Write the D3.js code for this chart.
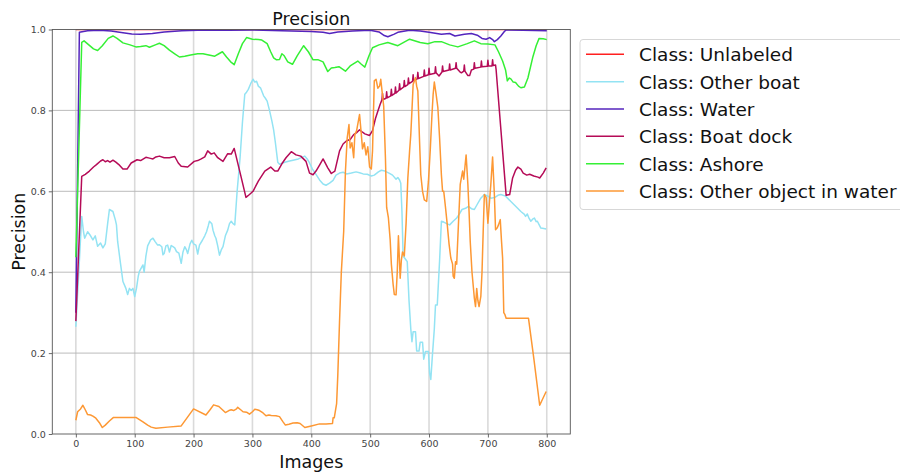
<!DOCTYPE html>
<html>
<head>
<meta charset="utf-8">
<script src="https://cdn.jsdelivr.net/npm/d3@7"></script>
<style>
  html, body { margin: 0; padding: 0; background: #fff; }
  svg { display: block; font-family: "DejaVu Sans", sans-serif; }
</style>
</head>
<body>
<svg id="chart" width="900" height="473"></svg>
<script>
// Per-class precision over the image sequence, as [image index, precision] pairs.
const classNames = ["Class: Unlabeled", "Class: Other boat", "Class: Water",
  "Class: Boat dock", "Class: Ashore", "Class: Other object in water"];

const unlabeled = [[0, 1.0], [800, 1.0]];

const otherBoat = [[0,0.265],[10,0.538],[13,0.5],[15,0.484],[20,0.5],[25,0.49],[29,0.48],[33,0.49],[37,0.464],[42,0.472],[46,0.46],[50,0.47],[54,0.52],[57,0.555],[63,0.55],[67,0.53],[69,0.517],[71,0.476],[76,0.42],[80,0.377],[85,0.36],[88,0.345],[91,0.36],[94,0.355],[97,0.36],[100,0.34],[103,0.36],[106,0.39],[108,0.402],[111,0.41],[114,0.418],[116,0.4],[119,0.44],[122,0.465],[127,0.48],[131,0.484],[135,0.475],[139,0.467],[142,0.468],[146,0.463],[148,0.443],[150,0.446],[153,0.465],[156,0.467],[159,0.45],[162,0.466],[165,0.463],[168,0.46],[171,0.451],[175,0.447],[179,0.422],[182,0.45],[185,0.463],[188,0.455],[190,0.446],[194,0.47],[197,0.479],[200,0.47],[204,0.467],[207,0.445],[210,0.467],[215,0.479],[219,0.49],[222,0.5],[225,0.515],[227,0.526],[231,0.52],[233,0.504],[236,0.49],[238,0.484],[241,0.465],[244,0.442],[247,0.455],[250,0.463],[254,0.49],[258,0.504],[261,0.52],[264,0.526],[267,0.52],[270,0.517],[274,0.6],[279,0.683],[283,0.77],[287,0.84],[290,0.845],[293,0.852],[297,0.866],[301,0.877],[304,0.87],[307,0.872],[310,0.86],[314,0.855],[319,0.836],[322,0.83],[325,0.823],[329,0.8],[333,0.774],[336,0.752],[339,0.72],[343,0.672],[346,0.667],[355,0.672],[363,0.675],[369,0.677],[378,0.68],[384,0.684],[389,0.687],[393,0.68],[397,0.67],[402,0.655],[408,0.642],[414,0.628],[420,0.618],[425,0.615],[431,0.62],[437,0.627],[442,0.64],[448,0.645],[454,0.647],[460,0.643],[468,0.645],[476,0.648],[482,0.646],[488,0.643],[495,0.642],[502,0.638],[507,0.64],[514,0.648],[519,0.652],[525,0.65],[532,0.645],[538,0.64],[544,0.63],[547,0.634],[550,0.628],[552,0.62],[554,0.55],[556,0.44],[561,0.43],[563,0.426],[566,0.33],[569,0.26],[571,0.228],[573,0.253],[577,0.253],[579,0.205],[583,0.205],[585,0.227],[589,0.227],[591,0.185],[594,0.204],[599,0.204],[601,0.15],[603,0.135],[606,0.2],[609,0.26],[611,0.319],[614,0.319],[618,0.43],[621,0.526],[625,0.524],[630,0.52],[635,0.517],[641,0.526],[647,0.534],[652,0.545],[656,0.555],[662,0.558],[667,0.563],[672,0.557],[677,0.555],[682,0.568],[688,0.583],[694,0.592],[700,0.588],[705,0.583],[712,0.585],[717,0.59],[722,0.592],[730,0.588],[739,0.575],[748,0.562],[756,0.55],[762,0.543],[764,0.538],[767,0.544],[770,0.533],[773,0.526],[776,0.531],[779,0.534],[782,0.525],[784,0.526],[790,0.509],[795,0.508],[799,0.507]];

const water = [[0,0.3],[6,0.993],[20,0.997],[40,0.998],[60,0.996],[80,0.992],[95,0.989],[110,0.988],[130,0.99],[150,0.994],[180,0.997],[220,0.999],[260,0.998],[300,0.999],[350,0.997],[400,0.995],[420,0.993],[431,0.99],[445,0.994],[470,0.996],[500,0.998],[515,0.994],[524,0.985],[530,0.982],[540,0.988],[547,0.993],[567,0.998],[585,0.996],[600,0.993],[621,0.988],[635,0.99],[644,0.984],[660,0.988],[672,0.99],[682,0.986],[690,0.978],[697,0.976],[703,0.98],[708,0.975],[711,0.97],[716,0.975],[722,0.984],[728,0.995],[731,0.999],[760,0.998],[800,0.997]];

const boatDock = [[0,0.279],[10,0.637],[16,0.642],[23,0.65],[30,0.66],[35,0.666],[42,0.675],[46,0.678],[50,0.673],[54,0.676],[58,0.672],[63,0.677],[68,0.672],[73,0.666],[80,0.655],[87,0.655],[94,0.67],[104,0.678],[110,0.676],[119,0.684],[125,0.682],[131,0.68],[136,0.685],[142,0.687],[150,0.683],[159,0.683],[168,0.686],[174,0.67],[179,0.662],[190,0.66],[201,0.674],[207,0.676],[213,0.68],[219,0.685],[224,0.7],[230,0.692],[235,0.695],[241,0.683],[250,0.674],[258,0.693],[264,0.692],[269,0.706],[280,0.64],[289,0.585],[295,0.592],[301,0.6],[310,0.625],[321,0.65],[326,0.655],[331,0.66],[338,0.65],[343,0.65],[350,0.668],[357,0.683],[366,0.698],[374,0.69],[382,0.687],[391,0.674],[397,0.645],[403,0.641],[408,0.65],[414,0.665],[420,0.68],[428,0.658],[434,0.644],[440,0.65],[448,0.7],[454,0.717],[460,0.725],[466,0.728],[472,0.74],[477,0.745],[482,0.752],[487,0.746],[491,0.742],[499,0.738],[504,0.75],[509,0.78],[513,0.798],[517,0.815],[520,0.826],[521,0.842],[522,0.827],[527,0.83],[528,0.846],[529,0.831],[535,0.836],[536,0.852],[537,0.837],[542,0.842],[543,0.858],[544,0.843],[549,0.85],[550,0.866],[551,0.851],[557,0.858],[558,0.874],[559,0.859],[564,0.864],[565,0.88],[566,0.866],[572,0.872],[573,0.888],[574,0.873],[580,0.878],[581,0.894],[582,0.879],[591,0.884],[592,0.9],[593,0.885],[599,0.888],[600,0.904],[601,0.889],[610,0.892],[611,0.908],[612,0.893],[617,0.885],[622,0.895],[623,0.91],[624,0.896],[634,0.9],[635,0.915],[636,0.9],[645,0.904],[646,0.918],[647,0.904],[652,0.896],[655,0.893],[659,0.897],[660,0.912],[661,0.897],[666,0.886],[669,0.886],[672,0.9],[676,0.902],[677,0.918],[678,0.904],[688,0.907],[689,0.922],[690,0.908],[699,0.909],[700,0.924],[701,0.91],[707,0.91],[708,0.925],[709,0.911],[713,0.912],[714,0.9],[731,0.59],[737,0.592],[742,0.633],[747,0.652],[751,0.66],[756,0.655],[760,0.645],[766,0.64],[771,0.642],[778,0.638],[785,0.635],[788,0.633],[794,0.645],[799,0.658]];

const ashore = [[0,0.437],[10,0.968],[14,0.972],[22,0.962],[30,0.952],[37,0.948],[45,0.96],[55,0.978],[63,0.984],[70,0.978],[80,0.967],[92,0.962],[102,0.957],[110,0.958],[119,0.96],[125,0.956],[135,0.962],[142,0.966],[150,0.96],[159,0.949],[168,0.94],[176,0.932],[185,0.934],[195,0.937],[207,0.94],[216,0.94],[226,0.937],[236,0.934],[243,0.94],[249,0.945],[256,0.932],[263,0.92],[269,0.913],[276,0.94],[283,0.965],[290,0.98],[300,0.976],[310,0.975],[316,0.974],[325,0.965],[331,0.945],[336,0.93],[341,0.925],[346,0.926],[350,0.94],[354,0.935],[360,0.92],[368,0.914],[376,0.935],[387,0.96],[395,0.945],[403,0.925],[412,0.925],[420,0.92],[428,0.896],[434,0.905],[440,0.906],[447,0.908],[458,0.897],[466,0.91],[479,0.922],[485,0.914],[491,0.907],[498,0.935],[504,0.955],[515,0.962],[530,0.968],[547,0.96],[567,0.976],[585,0.968],[598,0.965],[610,0.97],[621,0.97],[635,0.962],[649,0.957],[665,0.965],[677,0.972],[688,0.965],[700,0.964],[712,0.962],[718,0.945],[725,0.922],[730,0.9],[733,0.873],[736,0.88],[739,0.878],[743,0.87],[747,0.869],[752,0.86],[756,0.856],[762,0.858],[768,0.88],[776,0.93],[782,0.96],[787,0.978],[794,0.977],[800,0.975]];

const otherObject = [[0,0.034],[3,0.055],[8,0.062],[12,0.071],[16,0.06],[20,0.048],[25,0.047],[29,0.044],[34,0.039],[40,0.028],[45,0.016],[50,0.022],[57,0.032],[64,0.041],[80,0.041],[102,0.041],[114,0.03],[122,0.022],[128,0.017],[136,0.014],[156,0.017],[179,0.02],[200,0.062],[221,0.047],[228,0.06],[234,0.072],[243,0.068],[249,0.06],[254,0.053],[260,0.058],[264,0.06],[268,0.058],[273,0.062],[275,0.066],[280,0.06],[284,0.055],[290,0.054],[295,0.049],[300,0.055],[304,0.061],[308,0.06],[312,0.058],[318,0.052],[323,0.045],[328,0.047],[332,0.046],[340,0.045],[346,0.043],[352,0.03],[356,0.022],[362,0.024],[369,0.027],[376,0.028],[381,0.026],[389,0.016],[400,0.02],[414,0.025],[425,0.025],[436,0.026],[437,0.04],[439,0.04],[443,0.075],[445,0.145],[448,0.28],[451,0.4],[455,0.5],[458,0.65],[461,0.732],[464,0.765],[466,0.707],[469,0.72],[472,0.683],[474,0.74],[477,0.75],[482,0.79],[485,0.74],[487,0.705],[490,0.72],[493,0.69],[496,0.71],[499,0.66],[502,0.655],[504,0.7],[507,0.873],[510,0.877],[513,0.855],[516,0.86],[518,0.877],[520,0.85],[523,0.81],[526,0.68],[528,0.56],[531,0.534],[534,0.48],[536,0.42],[539,0.37],[541,0.345],[544,0.344],[546,0.4],[548,0.49],[551,0.385],[553,0.43],[555,0.45],[558,0.44],[561,0.52],[564,0.633],[567,0.7],[569,0.74],[571,0.8],[573,0.864],[575,0.872],[577,0.881],[579,0.86],[581,0.848],[584,0.72],[586,0.641],[589,0.6],[592,0.579],[596,0.575],[599,0.625],[602,0.7],[605,0.79],[607,0.84],[609,0.87],[612,0.84],[615,0.807],[618,0.73],[621,0.641],[623,0.6],[625,0.6],[628,0.56],[631,0.517],[634,0.47],[637,0.435],[640,0.42],[641,0.39],[643,0.385],[645,0.426],[647,0.42],[650,0.52],[653,0.617],[657,0.65],[659,0.63],[661,0.66],[663,0.69],[666,0.617],[668,0.55],[670,0.476],[673,0.4],[677,0.336],[679,0.315],[681,0.36],[683,0.33],[685,0.315],[688,0.34],[690,0.4],[692,0.5],[694,0.592],[697,0.585],[700,0.521],[703,0.58],[705,0.617],[708,0.685],[711,0.592],[713,0.505],[716,0.51],[718,0.517],[721,0.53],[723,0.48],[725,0.435],[727,0.3],[729,0.295],[731,0.286],[769,0.286],[778,0.187],[788,0.071],[799,0.105]];

const seriesData = [unlabeled, otherBoat, water, boatDock, ashore, otherObject];
const seriesColors = ["#ff1f1f", "#93e3f3", "#5424bd", "#b50b57", "#35f035", "#fd9834"];

const xTicks = [0, 100, 200, 300, 400, 500, 600, 700, 800];
const yTicks = [0.0, 0.2, 0.4, 0.6, 0.8, 1.0];

const svg = d3.select("#chart");
const plot = { left: 52.3, right: 570.3, top: 29.5, bottom: 434 };

const x = d3.scaleLinear().domain([-40, 840]).range([plot.left, plot.right]);
const y = d3.scaleLinear().domain([0, 1]).range([plot.bottom, plot.top]);

svg.append("defs").append("clipPath").attr("id", "plot-clip")
  .append("rect")
  .attr("x", plot.left).attr("y", plot.top)
  .attr("width", plot.right - plot.left).attr("height", plot.bottom - plot.top);

// Grid
const grid = svg.append("g");
grid.selectAll("line.vg").data(xTicks).join("line")
  .attr("class", "vg")
  .attr("x1", d => x(d)).attr("x2", d => x(d))
  .attr("y1", plot.top).attr("y2", plot.bottom)
  .attr("stroke", "#dadada").attr("stroke-width", 1.6);
grid.selectAll("line.hg").data(yTicks.filter(v => v > 0 && v < 1)).join("line")
  .attr("class", "hg")
  .attr("x1", plot.left).attr("x2", plot.right)
  .attr("y1", d => y(d)).attr("y2", d => y(d))
  .attr("stroke", "#b4b4b4").attr("stroke-width", 0.9);

// Lines
const line = d3.line().x(d => x(d[0])).y(d => y(d[1]));
const lines = svg.append("g").attr("clip-path", "url(#plot-clip)");
seriesData.forEach((data, i) => {
  lines.append("path")
    .datum(data)
    .attr("d", line)
    .attr("fill", "none")
    .attr("stroke", seriesColors[i])
    .attr("stroke-width", 1.5)
    .attr("stroke-linejoin", "round");
});

// Axes
const xAxis = d3.axisBottom(x).tickValues(xTicks).tickFormat(d3.format("d")).tickSize(3.5).tickPadding(3);
const yAxis = d3.axisLeft(y).tickValues(yTicks).tickFormat(d3.format(".1f")).tickSize(3.5).tickPadding(3);

const gx = svg.append("g").attr("transform", `translate(0,${plot.bottom})`).call(xAxis);
const gy = svg.append("g").attr("transform", `translate(${plot.left},0)`).call(yAxis);
[gx, gy].forEach(g => {
  g.select(".domain").remove();
  g.selectAll(".tick line").attr("stroke", "#444").attr("stroke-width", 0.8);
  g.selectAll(".tick text").attr("fill", "#444")
    .style("font-family", "DejaVu Sans").style("font-size", "9.5px");
});

// Frame
svg.append("rect")
  .attr("x", plot.left).attr("y", plot.top)
  .attr("width", plot.right - plot.left).attr("height", plot.bottom - plot.top)
  .attr("fill", "none").attr("stroke", "#555").attr("stroke-width", 0.9);

// Titles
svg.append("text").attr("x", (plot.left + plot.right) / 2).attr("y", 25)
  .attr("text-anchor", "middle").style("font-size", "17.5px").attr("fill", "#111")
  .text("Precision");
svg.append("text").attr("x", (plot.left + plot.right) / 2).attr("y", 468)
  .attr("text-anchor", "middle").style("font-size", "17.5px").attr("fill", "#111")
  .text("Images");
svg.append("text")
  .attr("transform", `translate(25,${(plot.top + plot.bottom) / 2}) rotate(-90)`)
  .attr("text-anchor", "middle").style("font-size", "17.5px").attr("fill", "#111")
  .text("Precision");

// Legend
const legend = svg.append("g");
legend.append("rect")
  .attr("x", 580).attr("y", 39.5).attr("width", 340).attr("height", 170)
  .attr("rx", 3).attr("fill", "#fff").attr("fill-opacity", 0.8)
  .attr("stroke", "#d2d2d2").attr("stroke-width", 0.9);
const entry = legend.selectAll("g.entry").data(classNames).join("g")
  .attr("class", "entry")
  .attr("transform", (d, i) => `translate(0,${54.3 + i * 27.35})`);
entry.append("line")
  .attr("x1", 586).attr("x2", 624).attr("y1", 0).attr("y2", 0)
  .attr("stroke", (d, i) => seriesColors[i]).attr("stroke-width", 1.5);
entry.append("text")
  .attr("x", 639).attr("y", 7)
  .style("font-size", "18.5px").attr("fill", "#111")
  .text(d => d);
</script>
</body>
</html>
